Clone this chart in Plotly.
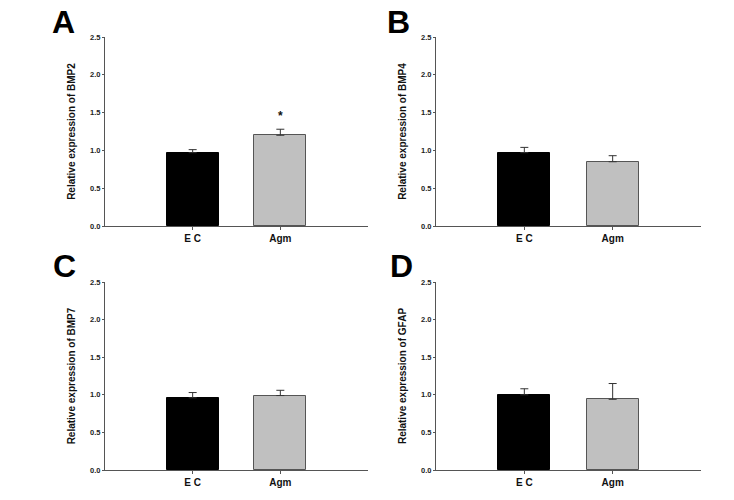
import plotly.graph_objects as go

categories = ["E C", "Agm"]
panel_letters = ["A", "B", "C", "D"]
genes = ["BMP2", "BMP4", "BMP7", "GFAP"]
means = [
    [0.97, 1.20],
    [0.97, 0.85],
    [0.96, 0.99],
    [1.00, 0.94],
]
errors = [
    [0.04, 0.08],
    [0.07, 0.08],
    [0.07, 0.07],
    [0.08, 0.21],
]
y_ticks = [0.0, 0.5, 1.0, 1.5, 2.0, 2.5]
y_tick_labels = ["0.0", "0.5", "1.0", "1.5", "2.0", "2.5"]
significance = [["", "*"], ["", ""], ["", ""], ["", ""]]

bar_colors = ["#000000", "#c0c0c0"]
bar_lines = ["#000000", "#555555"]

W, H = 734, 500
# pixel positions of each panel (x0, x1, ytop, ybottom)
panels = [
    (105, 368, 37, 226),
    (436, 701, 37, 226),
    (105, 368, 282, 470),
    (436, 701, 282, 470),
]
letter_pos = [(63, 22), (398, 22), (64, 266), (401, 266)]

fig = go.Figure()
font = "Liberation Sans, Arial, sans-serif"

for i in range(4):
    xa = "x" if i == 0 else f"x{i+1}"
    ya = "y" if i == 0 else f"y{i+1}"
    fig.add_trace(go.Bar(
        x=[0, 1], y=means[i],
        width=0.59,
        marker=dict(color=bar_colors, line=dict(color=bar_lines, width=1)),
        error_y=dict(type="data", symmetric=False, array=errors[i],
                     arrayminus=[0, 0], color="#333333", thickness=1, width=4),
        xaxis=xa, yaxis=ya, showlegend=False, hoverinfo="skip",
    ))
    x0, x1, yt, yb = panels[i]
    dx = [x0 / W, x1 / W]
    dy = [1 - yb / H, 1 - yt / H]
    axkey = "xaxis" if i == 0 else f"xaxis{i+1}"
    aykey = "yaxis" if i == 0 else f"yaxis{i+1}"
    fig.layout[axkey] = dict(
        domain=dx, range=[-1, 2], anchor=ya, automargin=False,
        tickvals=[0, 1], ticktext=categories,
        showline=True, linecolor="#555555", linewidth=1,
        ticks="outside", ticklen=3, tickcolor="#555555",
        showgrid=False, zeroline=False,
        tickfont=dict(family=font, size=10, color="#111111", weight="bold"),
    )
    fig.layout[aykey] = dict(
        domain=dy, range=[0, 2.5], anchor=xa, automargin=False,
        tickvals=y_ticks, ticktext=y_tick_labels,
        showline=True, linecolor="#555555", linewidth=1,
        ticks="outside", ticklen=2, tickcolor="#555555",
        showgrid=False, zeroline=False,
        tickfont=dict(family=font, size=7.5, color="#222222", weight="bold"),
        title=dict(text=f"Relative expression of {genes[i]}", standoff=12,
                   font=dict(family=font, size=10, color="#111111", weight="bold")),
    )
    for j in range(2):
        if significance[i][j]:
            fig.add_annotation(
                x=j, y=means[i][j] + errors[i][j], xref=xa, yref=ya,
                text=significance[i][j], showarrow=False, yanchor="bottom", yshift=4,
                font=dict(family=font, size=12, color="#111111", weight="bold"),
            )
    lx, ly = letter_pos[i]
    fig.add_annotation(
        x=lx / W, y=1 - ly / H, xref="paper", yref="paper",
        text=panel_letters[i], showarrow=False, xanchor="center", yanchor="middle",
        font=dict(family=font, size=32, color="#000000", weight="bold"),
    )

fig.update_layout(
    template="none",
    width=W, height=H,
    margin=dict(l=0, r=0, t=0, b=0),
    paper_bgcolor="white", plot_bgcolor="white",
    bargap=0,
)

# remove the browser's default 8px body margin so the figure sits at the window origin
fig.write_html("out.html",
               config={"displayModeBar": False},
               post_script="document.body.style.margin='0';document.body.style.overflow='hidden';")
